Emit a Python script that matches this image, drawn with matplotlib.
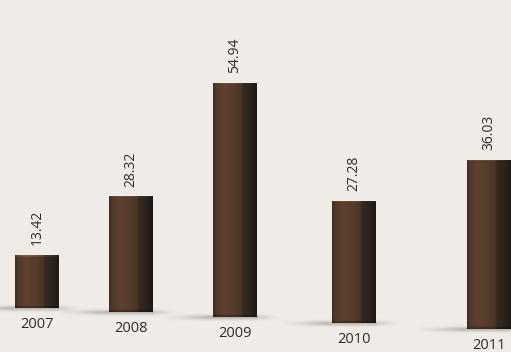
import numpy as np
import matplotlib
matplotlib.use("Agg")
import matplotlib.pyplot as plt
from matplotlib.colors import to_rgb

# ---- data ----
years = ["2007", "2008", "2009", "2010", "2011"]
values = [13.42, 28.32, 54.94, 27.28, 36.03]
value_labels = ["13.42", "28.32", "54.94", "27.28", "36.03"]

# ---- layout (pixels) ----
W, H = 511, 352
bar_left = [15, 109, 213, 332, 467]
bar_w = 44
BG = "#efebe6"
TXT = "#2e2e2e"
FONT = ["Open Sans", "DejaVu Sans"]


def baseline(xc):
    # perspective: baseline sinks slightly to the right
    return 308 + 0.0465 * (xc - 36)


def scale(xc):
    # perspective: px per unit grows to the right
    return 4.296 + 0.001686 * (xc - 249.2)


def stops_to_row(stops, n):
    pos = np.array([s[0] for s in stops])
    cols = np.array([to_rgb(s[1]) for s in stops])
    t = np.linspace(0, 1, n)
    return np.stack([np.interp(t, pos, cols[:, c]) for c in range(3)], axis=1)


grad_stops = [
    (0.00, "#3d2c20"), (0.07, "#523a2a"), (0.25, "#5d4030"),
    (0.45, "#583d2d"), (0.64, "#4b3527"), (0.68, "#352a20"),
    (0.85, "#2b241d"), (1.00, "#1e1914"),
]
row = stops_to_row(grad_stops, 80)

fig = plt.figure(figsize=(W / 100, H / 100), dpi=100)
fig.patch.set_facecolor(BG)

for i, (yr, v, lab) in enumerate(zip(years, values, value_labels)):
    left = bar_left[i]
    xc = left + bar_w / 2
    yb = baseline(xc)
    k = scale(xc)
    ax = fig.add_axes([left / W, 1 - yb / H, bar_w / W, yb / H])
    ax.set_xlim(-0.5, 0.5)
    ax.set_ylim(0, yb / k)
    ax.axis("off")

    # soft floor shadow
    nx, ny = 140, 30
    x0s, x1s = -1.6, 1.0
    sx = np.linspace(x0s, x1s, nx)
    sy = np.linspace(-7, 5, ny)
    X, Y = np.meshgrid(sx, sy)
    hx = np.where(X < -0.5, np.exp(-((X + 0.5) / 0.7) ** 2),
                  np.where(X > 0.5, np.exp(-((X - 0.5) / 0.3) ** 2) * 0.6, 1.0))
    hy = np.exp(-((Y + 0.3) / 2.4) ** 2)
    rgba = np.zeros((ny, nx, 4))
    rgba[..., :3] = to_rgb("#a8a29a")
    rgba[..., 3] = 0.7 * hx * hy
    im_s = ax.imshow(rgba, extent=(x0s, x1s, -7 / k, 5 / k), origin="lower",
                     aspect="auto", zorder=1, interpolation="bilinear")
    im_s.set_clip_on(False)

    bars = ax.bar(0, v, width=1, color="#4a3326", linewidth=0, zorder=2)
    patch = bars[0]

    hpx = max(int(k * v), 4)
    img = np.repeat(row[None, :, :], hpx, axis=0)
    fac = np.ones(hpx)
    fac[:3] = np.linspace(0.7, 0.9, 3)
    fac[-2:] = [1.2, 1.4]
    img = np.clip(img * fac[:, None, None], 0, 1)
    im = ax.imshow(img, extent=(-0.5, 0.5, 0, v), origin="lower",
                   aspect="auto", zorder=3, interpolation="bilinear")
    im.set_clip_path(patch)

    ax.annotate(lab, xy=(0, v), xytext=(0, 7), textcoords="offset points",
                rotation=90, ha="center", va="bottom", fontsize=10,
                color=TXT, family=FONT, annotation_clip=False)
    ax.annotate(yr, xy=(0, 0), xytext=(0, -6.5), textcoords="offset points",
                ha="center", va="top", fontsize=10.5, color=TXT,
                family=FONT, annotation_clip=False)

fig.savefig("out.png", dpi=100, facecolor=BG)
